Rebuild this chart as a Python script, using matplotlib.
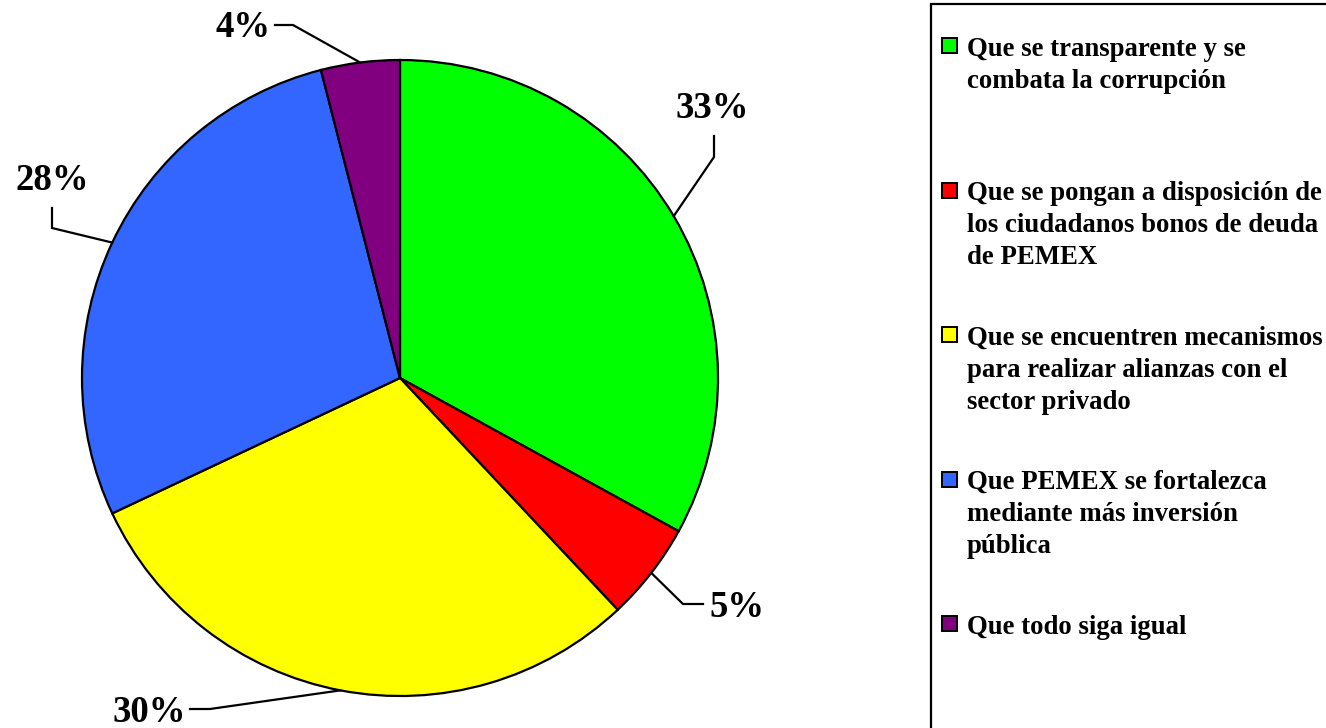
import matplotlib
matplotlib.use("Agg")
import matplotlib.pyplot as plt
from matplotlib.patches import Rectangle
import numpy as np

# ---------------------------------------------------------------------------
# Data
# ---------------------------------------------------------------------------
categories = [
    "Que se transparente y se\ncombata la corrupción",
    "Que se pongan a disposición de\nlos ciudadanos bonos de deuda\nde PEMEX",
    "Que se encuentren mecanismos\npara realizar alianzas con el\nsector privado",
    "Que PEMEX se fortalezca\nmediante más inversión\npública",
    "Que todo siga igual",
]
values = [33, 5, 30, 28, 4]
pct_labels = ["33%", "5%", "30%", "28%", "4%"]
colors = ["#00FF00", "#FF0000", "#FFFF00", "#3366FF", "#800080"]

# ---------------------------------------------------------------------------
# Layout (pixel coords, y measured from the top of the image)
# ---------------------------------------------------------------------------
W, H = 1326, 728
FONT = "Liberation Serif"

def Y(y):
    return H - y

# per label: elbow point, line end, text anchor (x, baseline), h-align
leaders = [
    ((714, 157), (714, 136), (712, 118), "center"),
    ((683, 604), (703, 604), (709, 617), "left"),
    ((210, 709), (190, 709), (186, 722), "right"),
    ((52, 228), (52, 208), (52, 190), "center"),
    ((293, 25), (275, 25), (271, 37), "right"),
]

fig = plt.figure(figsize=(W / 100, H / 100), dpi=100)
ax = fig.add_axes([0, 0, 1, 1])

wedges, _ = ax.pie(values, colors=colors, startangle=90, counterclock=False,
                   center=(400, Y(378)), radius=318,
                   wedgeprops=dict(edgecolor="black", linewidth=1.6))

cx, cy, r = 400, Y(378), 318
for w, lab, (elbow, end, txt, ha) in zip(wedges, pct_labels, leaders):
    ang = np.deg2rad((w.theta1 + w.theta2) / 2)
    ax0, ay0 = cx + r * np.cos(ang), cy + r * np.sin(ang)
    ax.plot([ax0, elbow[0], end[0]], [ay0, Y(elbow[1]), Y(end[1])],
            color="black", lw=1.6, solid_joinstyle="miter")
    ax.text(txt[0], Y(txt[1]), lab, ha=ha, va="baseline",
            fontsize=26.5, fontweight="bold", family=FONT)

# legend box drawn by hand so entries keep Excel's even spacing
ax.add_patch(Rectangle((931, Y(H + 10)), 420, H + 6, fill=False,
                       edgecolor="black", lw=1.6))
base0, step = 55, 144.5
for i, (cat, col) in enumerate(zip(categories, colors)):
    yb = base0 + i * step
    ax.add_patch(Rectangle((942, Y(yb - 2)), 15, 15, facecolor=col,
                           edgecolor="black", lw=1.4))
    ax.text(967, Y(yb - 18.5), cat, ha="left", va="top", fontsize=19.3,
            fontweight="bold", family=FONT, linespacing=1.38)

ax.set_xlim(0, W)
ax.set_ylim(0, H)
ax.set_aspect("equal")
ax.axis("off")

fig.savefig("out.png", dpi=100)
